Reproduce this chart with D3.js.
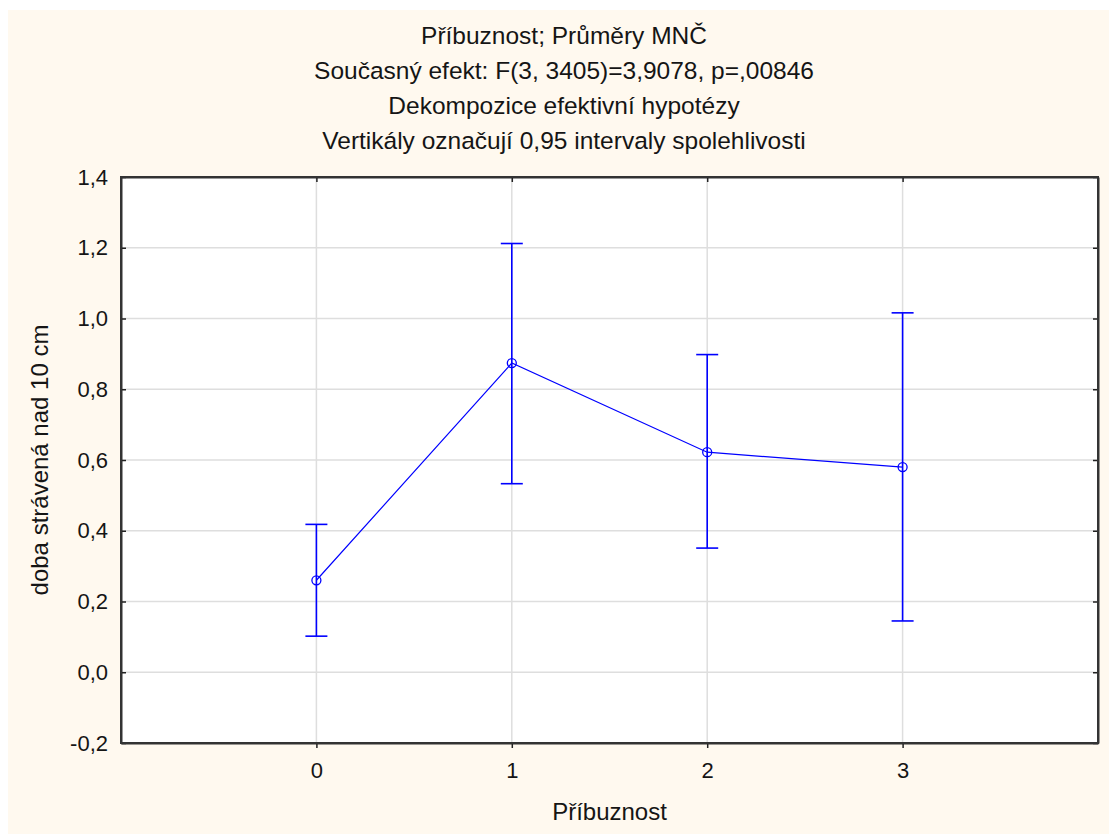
<!DOCTYPE html>
<html><head><meta charset="utf-8">
<script src="https://cdn.jsdelivr.net/npm/d3@7"></script>
<style>body{margin:0;background:#fff}svg{display:block}</style>
</head><body>
<svg id="c" width="1109" height="834"></svg>
<script>
const categories = [0, 1, 2, 3];
const means = [0.260, 0.874, 0.622, 0.580];
const upper = [0.418, 1.212, 0.898, 1.016];
const lower = [0.102, 0.533, 0.351, 0.145];
const yTicks = [-0.2, 0.0, 0.2, 0.4, 0.6, 0.8, 1.0, 1.2, 1.4];
const titleLines = ["Příbuznost; Průměry MNČ", "Současný efekt: F(3, 3405)=3,9078, p=,00846", "Dekompozice efektivní hypotézy", "Vertikály označují 0,95 intervaly spolehlivosti"];
const xTitle = "Příbuznost";
const yTitle = "doba strávená nad 10 cm";

const svg = d3.select("#c");
const font = "'Liberation Sans', Arial, sans-serif";
const fsTitle = 24.5, fsTick = 22, fsAxis = 24;
const blue = "#0000ff";
svg.append("rect").attr("x", 8).attr("y", 10).attr("width", 1101).attr("height", 824).attr("fill", "#fff9ef");

const L = 121, R = 1098, T = 177, B = 743;
const x = d3.scaleLinear().domain([-1, 4]).range([L, R]);
const y = d3.scaleLinear().domain([-0.2, 1.4]).range([B, T]);

svg.append("rect").attr("x", L).attr("y", T).attr("width", R - L).attr("height", B - T).attr("fill", "#fff");

// grid
const g = svg.append("g");
g.selectAll(".gy").data(yTicks.slice(1, -1)).join("line")
  .attr("x1", L).attr("x2", R).attr("y1", d => y(d)).attr("y2", d => y(d))
  .attr("stroke", "#dedede").attr("stroke-width", 1.5);
g.selectAll(".gx").data(categories).join("line")
  .attr("y1", T).attr("y2", B).attr("x1", d => x(d)).attr("x2", d => x(d))
  .attr("stroke", "#dedede").attr("stroke-width", 1.5);

// axes
const fmt = d => d3.format(".1f")(d).replace(".", ",").replace("−", "-");
const axL = svg.append("g").attr("transform", `translate(${L},0)`)
  .call(d3.axisLeft(y).tickValues(yTicks).tickFormat(fmt).tickSizeInner(-5).tickSizeOuter(0).tickPadding(13));
const axR = svg.append("g").attr("transform", `translate(${R},0)`)
  .call(d3.axisRight(y).tickValues(yTicks).tickFormat("").tickSizeInner(-5).tickSizeOuter(0));
const axB = svg.append("g").attr("transform", `translate(0,${B})`)
  .call(d3.axisBottom(x).tickValues(categories).tickFormat(d3.format("d")).tickSizeInner(5).tickSizeOuter(0).tickPadding(12));
const axT = svg.append("g").attr("transform", `translate(0,${T})`)
  .call(d3.axisTop(x).tickValues(categories).tickFormat("").tickSizeInner(-5).tickSizeOuter(0));
[axL, axR, axB, axT].forEach(a => {
  a.select(".domain").attr("stroke", "#333").attr("stroke-width", 2);
  a.selectAll(".tick line").attr("stroke", "#222").attr("stroke-width", 1.5);
  a.selectAll("text").attr("font-family", font).attr("font-size", fsTick).attr("fill", "#151515");
});
axB.selectAll("text").attr("y", 27).attr("dy", "0.35em");
svg.append("rect").attr("x", L).attr("y", T).attr("width", R - L).attr("height", B - T)
  .attr("fill", "none").attr("stroke", "#333").attr("stroke-width", 2);

// data
const data = categories.map((c, i) => ({c, m: means[i], u: upper[i], l: lower[i]}));
const p = svg.append("g");
p.append("path").datum(data)
  .attr("d", d3.line().x(d => x(d.c)).y(d => y(d.m)))
  .attr("fill", "none").attr("stroke", blue).attr("stroke-width", 1.2);
p.selectAll(".eb").data(data).join("line")
  .attr("x1", d => x(d.c)).attr("x2", d => x(d.c)).attr("y1", d => y(d.u)).attr("y2", d => y(d.l))
  .attr("stroke", blue).attr("stroke-width", 1.6);
["u", "l"].forEach(k => {
  p.selectAll(".cap" + k).data(data).join("line")
    .attr("x1", d => x(d.c) - 11).attr("x2", d => x(d.c) + 11).attr("y1", d => y(d[k])).attr("y2", d => y(d[k]))
    .attr("stroke", blue).attr("stroke-width", 1.6);
});
p.selectAll("circle").data(data).join("circle")
  .attr("cx", d => x(d.c)).attr("cy", d => y(d.m)).attr("r", 4.5)
  .attr("fill", "none").attr("stroke", blue).attr("stroke-width", 1.3);

// titles
svg.selectAll(".title").data(titleLines).join("text")
  .attr("x", 564).attr("y", (d, i) => 35 + i * 35).attr("dy", "0.35em")
  .attr("text-anchor", "middle").attr("font-family", font).attr("font-size", fsTitle).attr("fill", "#151515")
  .text(d => d);
svg.append("text").attr("x", (L + R) / 2).attr("y", 812).attr("dy", "0.35em").attr("text-anchor", "middle")
  .attr("font-family", font).attr("font-size", fsAxis).attr("fill", "#151515").text(xTitle);
svg.append("text").attr("transform", `translate(40,${(T + B) / 2}) rotate(-90)`).attr("dy", "0.35em").attr("text-anchor", "middle")
  .attr("font-family", font).attr("font-size", fsAxis).attr("fill", "#151515").text(yTitle);
</script>
</body></html>
